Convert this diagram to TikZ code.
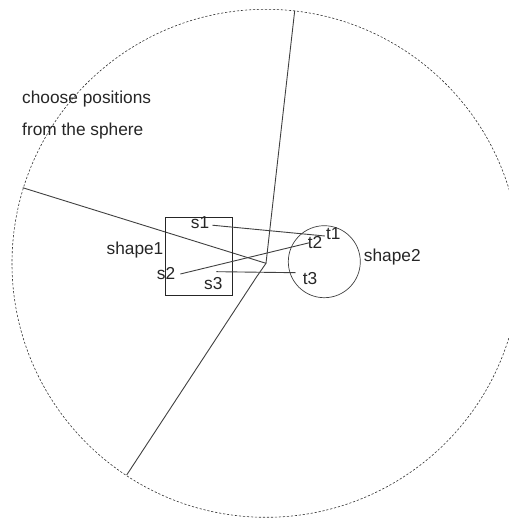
\documentclass[tikz,border=0pt]{standalone}
\usepackage{fontspec}
\setmainfont{Liberation Sans}
\begin{document}
\begin{tikzpicture}[x=1pt,y=-1pt,
  lbl/.style={inner sep=1pt,font=\fontsize{17.3}{20}\selectfont,text=black!85},
  ray/.style={draw=black!75,line width=0.9pt},
  link/.style={draw=black!75,line width=0.9pt},
  sphere/.style={draw=black!80,line width=0.6pt,dash pattern=on 2.2pt off 1.8pt}]
\useasboundingbox (0,0) rectangle (509,520);
\begin{scope}
\clip (0,0) rectangle (509,520);
\draw[sphere] (266,263.3) circle (254);
\end{scope}
\coordinate (c) at (266,263.3);
\coordinate (p1) at (294.7,10.7);
\coordinate (p2) at (22.7,187.7);
\coordinate (p3) at (126.7,475);
\draw[ray] (p1) -- (c) -- (p2);
\draw[ray] (c) -- (256.5,277) -- (p3);
\node[draw=black!85,line width=0.7pt,minimum width=67pt,minimum height=78pt,inner sep=0pt] (sh1) at (198.7,256) {};
\node[draw=black!75,line width=0.7pt,circle,minimum size=72pt,inner sep=0pt] (sh2) at (324.3,261.7) {};
\node[lbl,anchor=west] (txt1) at (21,99.3) {choose positions};
\node[lbl,anchor=west] (txt2) at (21,131) {from the sphere};
\node[lbl] (shape1) at (135,250) {shape1};
\node[lbl] (shape2) at (392.3,256.7) {shape2};
\node[lbl] (s1) at (200,222.7) {s1};
\node[lbl] (s2) at (166,274) {s2};
\node[lbl] (s3) at (213.3,284) {s3};
\node[lbl] (t1) at (333.3,234) {t1};
\node[lbl] (t2) at (315,242.7) {t2};
\node[lbl] (t3) at (310,278.3) {t3};
\draw[link] ([xshift=2pt,yshift=-2.5pt]s1.east) -- ([yshift=-2pt]t1.west);
\draw[link] ([xshift=4pt]s2.east) -- ([xshift=3pt]t2.west);
\draw[link] ([xshift=3pt,yshift=5pt]s3.north) -- ([xshift=-6pt,yshift=5.6pt]t3.west);
\end{tikzpicture}
\end{document}
